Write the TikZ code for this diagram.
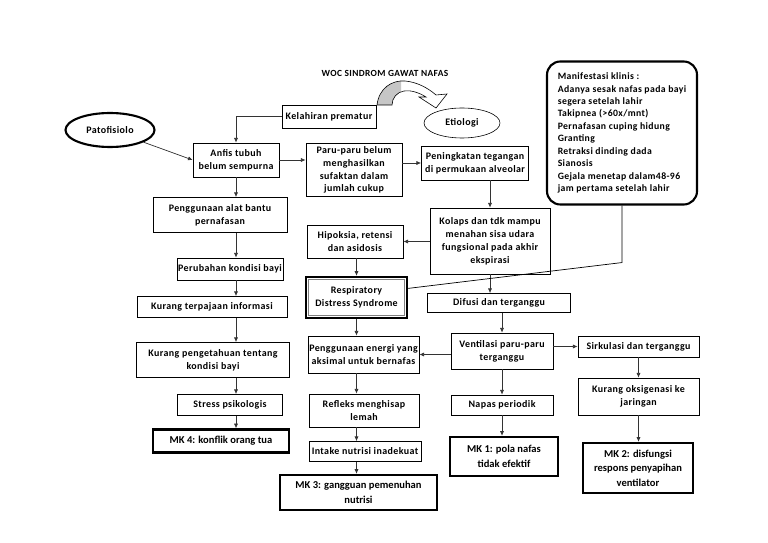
\documentclass[tikz,border=0pt]{standalone}
\usepackage{fontspec}
\setmainfont{Carlito}[LetterSpace=4]
\newfontfamily\mkfont{Carlito}
\usetikzlibrary{arrows.meta,shapes.geometric}

\tikzset{
  box/.style={draw, line width=0.6pt, align=center, inner sep=1pt,
    font=\bfseries\fontsize{8.5}{11}\selectfont},
  mkbox/.style={box, line width=2pt, font=\mkfont\bfseries\fontsize{9}{12.5}\selectfont},
  sz/.style 2 args={minimum width=#1*0.03cm, minimum height=#2*0.03cm},
  arr/.style={-{Latex[length=4pt,width=3.5pt]}, line width=0.6pt, black!80},
}
% curved block arrow above "Kelahiran prematur"
\newcommand{\bandpath}{(377,105) .. controls (379,88) and (392,80) .. (405,81)
  .. controls (417,82) and (428,88) .. (436,95) -- (447,94) -- (436,108)
  -- (419,97) -- (426,97) .. controls (418,92) and (410,90) .. (404,91)
  .. controls (397,92) and (392,98) .. (392,105) -- cycle}

\begin{document}
\begin{tikzpicture}[x=0.03cm, y=-0.03cm]
\useasboundingbox (0,0) rectangle (768,543);
\fill[white] (0,0) rectangle (768,543);

\node[font=\bfseries\fontsize{8}{10}\selectfont] (title) at (385,73) {WOC SINDROM GAWAT NAFAS};

% top row
\node[box, sz={94}{23}] (lahir) at (329,116.5) {Kelahiran prematur};
\node[ellipse, draw, line width=0.5pt, sz={76}{30}, font=\bfseries\fontsize{8.5}{10}\selectfont] (etio) at (462,123) {Etiologi};
\node[ellipse, draw, line width=1.8pt, sz={89}{34}, font=\bfseries\fontsize{8.5}{10}\selectfont] (pato) at (110,130) {Patofisiolo};
\node[box, sz={86}{34}] (anfis) at (236,160) {Anfis tubuh\\belum sempurna};
\node[box, sz={96}{53}] (paru) at (354,170) {Paru-paru belum\\menghasilkan\\sufaktan dalam\\jumlah cukup};
\node[box, sz={107}{34}] (tegang) at (475,163) {Peningkatan tegangan\\di permukaan alveolar};
\node[draw, line width=1.8pt, rounded corners=0.4cm, sz={150}{143}, align=left, inner sep=1pt,
  font=\bfseries\fontsize{8.3}{10.6}\selectfont] (mani) at (622,133)
  {Manifestasi klinis :\\Adanya sesak nafas pada bayi\\segera setelah lahir\\Takipnea (>60x/mnt)\\Pernafasan cuping hidung\\Granting\\Retraksi dinding dada\\Sianosis\\Gejala menetap dalam48-96\\jam pertama setelah lahir};

% left column
\node[box, sz={134}{35}] (alat) at (220,215) {Penggunaan alat bantu\\pernafasan};
\node[box, sz={105}{22}] (ubah) at (230,269) {Perubahan kondisi bayi};
\node[box, sz={150}{21}] (pajan) at (212,307) {Kurang terpajaan informasi};
\node[box, sz={153}{35}] (tahu) at (213,360) {Kurang pengetahuan tentang\\kondisi bayi};
\node[box, sz={105}{21}] (stres) at (230,405) {Stress psikologis};
\node[mkbox, sz={136}{23}] (mkempat) at (221,441) {MK 4: konflik orang tua};

% middle column
\node[box, sz={96}{33}] (hipo) at (355,241.5) {Hipoksia, retensi\\dan asidosis};
\node[box, line width=2pt, sz={101}{41}] (rds) at (356.5,297.5) {Respiratory\\Distress Syndrome};
\draw[gray, line width=0.5pt] ([shift={(3.5,3.5)}]rds.north west) rectangle ([shift={(-3.5,-3.5)}]rds.south east);
\node[box, sz={111}{37}] (energi) at (363.5,354.5) {Penggunaan energi yang\\aksimal untuk bernafas};
\node[box, sz={110}{33}] (refleks) at (364,410.5) {Refleks menghisap\\lemah};
\node[box, sz={112}{20}] (intake) at (365,451.5) {Intake nutrisi inadekuat};
\node[mkbox, sz={157}{35}] (mktiga) at (358.5,492.5) {MK 3: gangguan pemenuhan\\nutrisi};

% right columns
\node[box, sz={120}{66}] (kolaps) at (490,241) {Kolaps dan tdk mampu\\menahan sisa udara\\fungsional pada akhir\\ekspirasi};
\node[box, sz={143}{19}] (difusi) at (499,303) {Difusi dan terganggu};
\node[box, sz={102}{36}] (venti) at (502,351) {Ventilasi paru-paru\\terganggu};
\node[box, sz={102}{20}] (napas) at (502,405) {Napas periodik};
\node[mkbox, sz={108}{39}] (mksatu) at (504,456.5) {MK 1: pola nafas\\tidak efektif};
\node[box, sz={121}{21}] (sirku) at (638.5,346.5) {Sirkulasi dan terganggu};
\node[box, sz={121}{37}] (oksi) at (638.5,396.5) {Kurang oksigenasi ke\\jaringan};
\node[mkbox, sz={110}{50}] (mkdua) at (638,468) {MK 2: disfungsi\\respons penyapihan\\ventilator};

% curved arrow
\fill[white] \bandpath;
\begin{scope}
  \clip (370,70) rectangle (401,110);
  \fill[gray!45] \bandpath;
\end{scope}
\draw[line width=0.5pt] \bandpath;

% connectors
\draw[arr] (lahir.west) -| (anfis.north);
\draw[arr] (pato) -- (anfis.west);
\draw[arr] (anfis.east) -- (anfis.east -| paru.west);
\draw[arr] (tegang.west -| paru.east) -- (tegang.west);
\draw[arr] (kolaps.north |- tegang.south) -- (kolaps.north);
\draw[arr] (kolaps.south) -- (kolaps.south |- difusi.north);
\draw[arr] (kolaps.west |- hipo.east) -- (hipo.east);
\draw[arr] (hipo.south -| rds.north) -- (rds.north);
\draw[arr] (rds.south) -- (rds.south |- energi.north);
\draw[arr] (rds.south |- energi.south) -- (rds.south |- refleks.north);
\draw[arr] (rds.south |- refleks.south) -- (rds.south |- intake.north);
\draw[arr] (rds.south |- intake.south) -- (rds.south |- mktiga.north);
\draw[arr] (anfis.south) -- (anfis.south |- alat.north);
\draw[arr] (anfis.south |- alat.south) -- (anfis.south |- ubah.north);
\draw[arr] (anfis.south |- ubah.south) -- (anfis.south |- pajan.north);
\draw[arr] (anfis.south |- pajan.south) -- (anfis.south |- tahu.north);
\draw[arr] (anfis.south |- tahu.south) -- (anfis.south |- stres.north);
\draw[arr] (anfis.south |- stres.south) -- (anfis.south |- mkempat.north);
\draw[arr] (difusi.south -| venti.north) -- (venti.north);
\draw[arr] (venti.south) -- (venti.south |- napas.north);
\draw[arr] (napas.south) -- (napas.south |- mksatu.north);
\draw[arr] (venti.west |- energi.east) -- (energi.east);
\draw[arr] (venti.east |- sirku.west) -- (sirku.west);
\draw[arr] (sirku.south) -- (oksi.north);
\draw[arr] (oksi.south) -- (oksi.south |- mkdua.north);
\draw[line width=0.6pt] (mani.south) -- ++(0,57) -- (rds.10);
\end{tikzpicture}
\end{document}
